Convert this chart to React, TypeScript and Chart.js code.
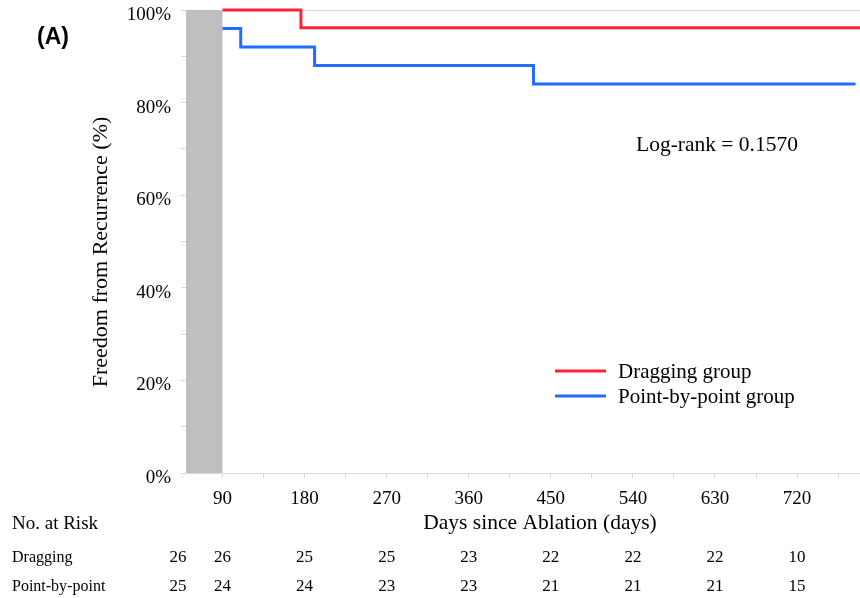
import React, { useEffect, useRef } from "react";
import { Chart, registerables } from "chart.js";

Chart.register(...registerables);

// ---- data ----
const DRAGGING_TIMES = [90, 176, 789];
const DRAGGING_SURVIVAL = [100, 96.15, 96.15];
const POINT_TIMES = [90, 110, 191, 431, 784];
const POINT_SURVIVAL = [96, 92, 88, 84, 84];
const SERIES_LABELS = ["Dragging group", "Point-by-point group"];
const SERIES_COLORS = ["#ff2236", "#1f6fff"];

const X_MIN = 50;
const X_MAX = 789;
const X_TICK_STEP = 45;
const X_LABEL_STEP = 90;
const Y_TICK_STEP = 10;
const Y_LABEL_STEP = 20;
const BLANKING_START = 50;
const BLANKING_END = 90;

const RISK_TIMES = [90, 180, 270, 360, 450, 540, 630, 720];
const RISK_ROW_LABELS = ["Dragging", "Point-by-point"];
const RISK_BASELINE = [26, 25];
const RISK_DRAGGING = [26, 25, 25, 23, 22, 22, 22, 10];
const RISK_POINT = [24, 24, 23, 23, 21, 21, 21, 15];

const PANEL_LABEL = "(A)";
const LOG_RANK_TEXT = "Log-rank = 0.1570";
const X_TITLE = "Days since Ablation (days)";
const Y_TITLE = "Freedom from Recurrence (%)";
const RISK_TITLE = "No. at Risk";

const SERIF = '"Liberation Serif", "Times New Roman", serif';
const SANS = '"Liberation Sans", Arial, sans-serif';

const overlayPlugin = {
  id: "overlay",
  beforeDatasetsDraw(chart: any) {
    const { ctx, scales } = chart;
    const x = scales.x, y = scales.y;
    const x0 = x.getPixelForValue(BLANKING_START);
    const x1 = x.getPixelForValue(BLANKING_END);
    const y0 = y.getPixelForValue(100);
    const y1 = y.getPixelForValue(0);
    ctx.save();
    ctx.fillStyle = "#bfbfbf";
    ctx.fillRect(x0, y0, x1 - x0, y1 - y0);
    ctx.restore();
  },
  afterDraw(chart: any) {
    const { ctx, scales, chartArea } = chart;
    const x = scales.x;
    ctx.save();
    ctx.fillStyle = "#000";
    ctx.textBaseline = "middle";

    // panel label
    ctx.font = `bold 23px ${SANS}`;
    ctx.textAlign = "left";
    ctx.fillText(PANEL_LABEL, 37, 38);

    // y title
    ctx.save();
    ctx.translate(101, 252);
    ctx.rotate(-Math.PI / 2);
    ctx.font = `22px ${SERIF}`;
    ctx.textAlign = "center";
    ctx.fillText(Y_TITLE, 0, 0);
    ctx.restore();

    // x title
    ctx.font = `21.5px ${SERIF}`;
    ctx.textAlign = "center";
    ctx.fillText(X_TITLE, 540, 523);

    // log-rank
    ctx.font = `21.5px ${SERIF}`;
    ctx.textAlign = "center";
    ctx.fillText(LOG_RANK_TEXT, 717, 145);

    // legend
    const legendY = [371, 396];
    chart.data.datasets.forEach((ds: any, i: number) => {
      ctx.strokeStyle = ds.borderColor;
      ctx.lineWidth = 3;
      ctx.beginPath();
      ctx.moveTo(555, legendY[i]);
      ctx.lineTo(606, legendY[i]);
      ctx.stroke();
      ctx.font = `21px ${SERIF}`;
      ctx.textAlign = "left";
      ctx.fillStyle = "#000";
      ctx.fillText(ds.label, 618, legendY[i] + 1);
    });

    // risk table
    ctx.font = `19px ${SERIF}`;
    ctx.textAlign = "left";
    ctx.fillText(RISK_TITLE, 12, 524);
    const rowY = [558, 587];
    const rows = [RISK_DRAGGING, RISK_POINT];
    rows.forEach((row, r) => {
      ctx.font = `16px ${SERIF}`;
      ctx.textAlign = "left";
      ctx.fillText(RISK_ROW_LABELS[r], 12, rowY[r]);
      ctx.font = `17px ${SERIF}`;
      ctx.textAlign = "center";
      ctx.fillText(String(RISK_BASELINE[r]), chartArea.left - 8, rowY[r]);
      row.forEach((v, i) => {
        ctx.fillText(String(v), x.getPixelForValue(RISK_TIMES[i]), rowY[r]);
      });
    });
    ctx.restore();
  },
};

export default function App() {
  const canvasRef = useRef<HTMLCanvasElement | null>(null);

  useEffect(() => {
    const canvas = canvasRef.current;
    if (!canvas) return;
    const toPoints = (t: number[], s: number[]) => t.map((v, i) => ({ x: v, y: s[i] }));
    const chart = new Chart(canvas, {
      type: "line",
      data: {
        datasets: [
          {
            label: SERIES_LABELS[0],
            data: toPoints(DRAGGING_TIMES, DRAGGING_SURVIVAL),
            borderColor: SERIES_COLORS[0],
            backgroundColor: SERIES_COLORS[0],
            borderWidth: 3,
            pointRadius: 0,
            stepped: "before",
            fill: false,
            clip: false,
          },
          {
            label: SERIES_LABELS[1],
            data: toPoints(POINT_TIMES, POINT_SURVIVAL),
            borderColor: SERIES_COLORS[1],
            backgroundColor: SERIES_COLORS[1],
            borderWidth: 3,
            pointRadius: 0,
            stepped: "before",
            fill: false,
            clip: false,
          },
        ],
      },
      options: {
        responsive: false,
        animation: false,
        devicePixelRatio: 1,
        layout: { padding: { top: 10, left: 0, right: 0, bottom: 0 } },
        plugins: { legend: { display: false }, tooltip: { enabled: false }, title: { display: false } },
        scales: {
          x: {
            type: "linear",
            min: X_MIN,
            max: X_MAX,
            afterFit: (s: any) => {
              s.height = 125;
              s.paddingLeft = 0;
              s.paddingRight = 0;
            },
            border: { display: true, color: "#d9d9d9", width: 1 },
            grid: { drawOnChartArea: false, drawTicks: true, tickLength: 5, tickColor: "#d9d9d9" },
            ticks: {
              stepSize: X_TICK_STEP,
              includeBounds: false,
              autoSkip: false,
              maxRotation: 0,
              padding: 10,
              color: "#000",
              font: { family: SERIF, size: 19 },
              callback: (v: any) => (Number(v) % X_LABEL_STEP === 0 ? String(v) : ""),
            },
          },
          y: {
            type: "linear",
            min: 0,
            max: 100,
            afterFit: (s: any) => {
              s.width = 186;
              s.paddingTop = 0;
              s.paddingBottom = 0;
            },
            border: { display: false },
            grid: {
              drawOnChartArea: true,
              tickLength: 5,
              color: (c: any) => (c.tick && c.tick.value === 100 ? "#d9d9d9" : "rgba(0,0,0,0)"),
              tickColor: "#d9d9d9",
            },
            ticks: {
              stepSize: Y_TICK_STEP,
              padding: 10,
              labelOffset: 5,
              color: "#000",
              font: { family: SERIF, size: 19 },
              callback: (v: any) => (Number(v) % Y_LABEL_STEP === 0 ? `${v}%` : ""),
            },
          },
        },
      },
      plugins: [overlayPlugin],
    } as any);
    return () => chart.destroy();
  }, []);

  return (
    <div style={{ position: "absolute", left: 0, top: 0, width: 860, height: 598, background: "#fff" }}>
      <canvas ref={canvasRef} width={860} height={598} style={{ display: "block" }} />
    </div>
  );
}
